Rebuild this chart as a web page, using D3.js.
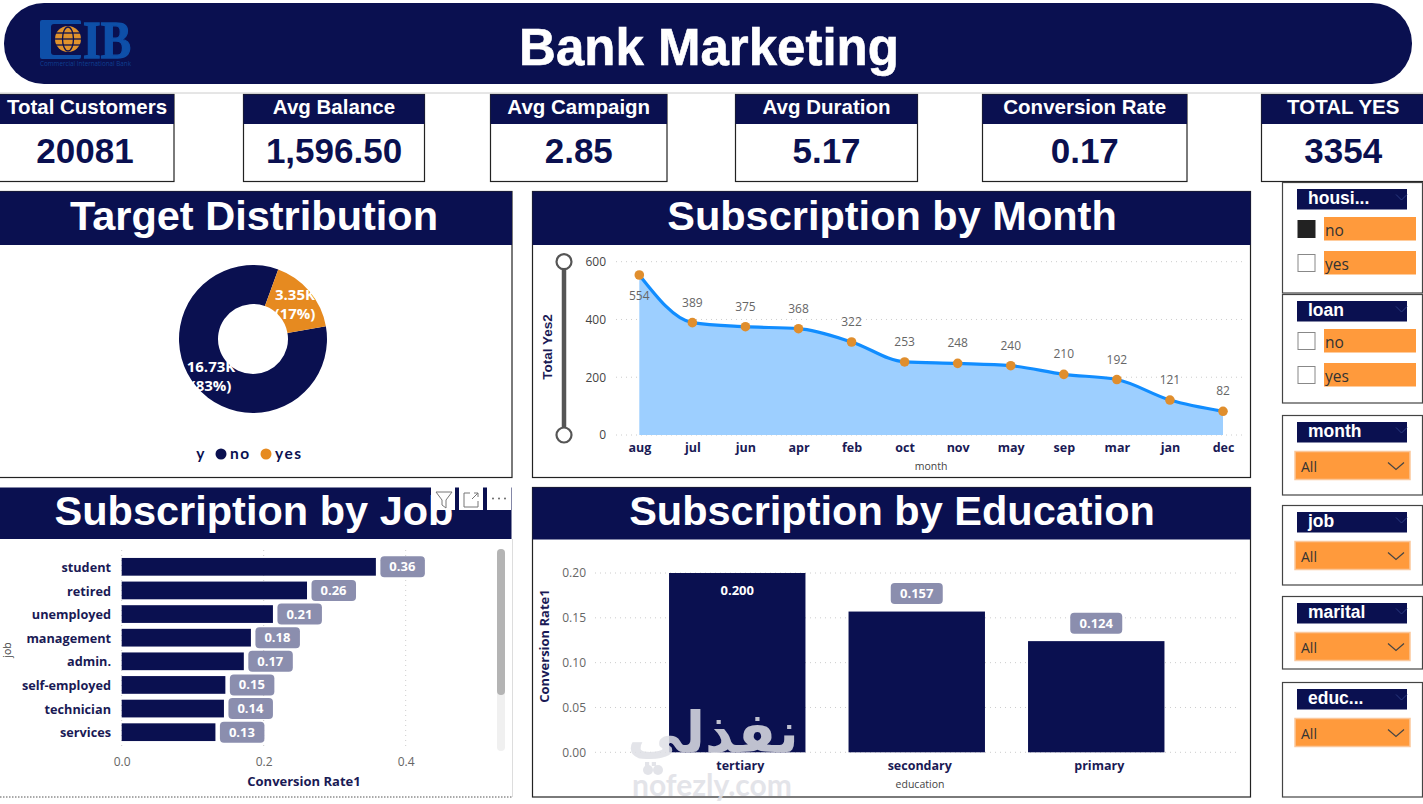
<!DOCTYPE html>
<html>
<head>
<meta charset="utf-8">
<title>Bank Marketing</title>
<script src="https://cdn.jsdelivr.net/npm/d3@7"></script>
<style>
  html, body { margin: 0; padding: 0; background: #fff; overflow: hidden; }
  svg { display: block; }
  text { font-family: "Open Sans", sans-serif; }
  text.arial { font-family: "Liberation Sans", Arial, sans-serif; }
  .axis .domain { display: none; }
  .axis .tick line { display: none; }
</style>
</head>
<body>
<div id="chart"></div>
<script>
// data
var kpiLabels = ["Total Customers", "Avg Balance", "Avg Campaign", "Avg Duration", "Conversion Rate", "TOTAL YES"];
var kpiValues = ["20081", "1,596.50", "2.85", "5.17", "0.17", "3354"];

var targetCats = ["no", "yes"];
var targetVals = [16730, 3350];
var targetLabels = ["16.73K", "3.35K"];
var targetPcts = ["(83%)", "(17%)"];

var months = ["aug", "jul", "jun", "apr", "feb", "oct", "nov", "may", "sep", "mar", "jan", "dec"];
var monthYes = [554, 389, 375, 368, 322, 253, 248, 240, 210, 192, 121, 82];
var monthTicks = [0, 200, 400, 600];

var jobs = ["student", "retired", "unemployed", "management", "admin.", "self-employed", "technician", "services"];
var jobRate = [0.358, 0.261, 0.213, 0.182, 0.172, 0.146, 0.144, 0.132];
var jobTicks = [0, 0.2, 0.4];

var education = ["tertiary", "secondary", "primary"];
var eduRate = [0.200, 0.157, 0.124];
var eduTicks = [0, 0.05, 0.10, 0.15, 0.20];

var listSlicers = ["housi...", "loan"];
var listOptions = ["no", "yes"];
var dropSlicers = ["month", "job", "marital", "educ..."];

var navy = "#0a1050", orange = "#e68a20", sliceOrange = "#ff9a3c";
var ink = "#1a1a55", grey = "#666";

var svg = d3.select("#chart").append("svg").attr("width", 1423).attr("height", 804);

// helpers
function frame(x, y, w, h, stroke) {
    return svg.append("rect").attr("x", x).attr("y", y).attr("width", w).attr("height", h)
        .attr("fill", "#fff").attr("stroke", stroke || "#222").attr("stroke-width", 1.2);
}
function band(x, y, w, h) {
    return svg.append("rect").attr("x", x).attr("y", y).attr("width", w).attr("height", h).attr("fill", navy);
}
function label(x, y, s, size, weight, fill, anchor) {
    return svg.append("text").attr("x", x).attr("y", y).text(s)
        .attr("font-size", size).attr("font-weight", weight || 400)
        .attr("fill", fill || ink).attr("text-anchor", anchor || "middle");
}
function gridX(sel, scale, ticks, y0, y1) {
    sel.selectAll("line.g").data(ticks).enter().append("line").attr("class", "g")
        .attr("x1", function(d) { return scale(d); }).attr("x2", function(d) { return scale(d); })
        .attr("y1", y0).attr("y2", y1)
        .attr("stroke", "#ccc").attr("stroke-dasharray", "1 4");
}
function gridY(sel, scale, ticks, x0, x1) {
    sel.selectAll("line.g").data(ticks).enter().append("line").attr("class", "g")
        .attr("x1", x0).attr("x2", x1)
        .attr("y1", function(d) { return scale(d); }).attr("y2", function(d) { return scale(d); })
        .attr("stroke", "#ccc").attr("stroke-dasharray", "1 4");
}

// header
svg.append("line").attr("x1", 0).attr("x2", 1423).attr("y1", 93).attr("y2", 93).attr("stroke", "#ccc");
svg.append("rect").attr("x", 4).attr("y", 3).attr("width", 1408).attr("height", 81).attr("rx", 40).attr("fill", navy);
label(709, 65, "Bank Marketing", 51, 700, "#fff").attr("class", "arial")
    .attr("stroke", "#fff").attr("stroke-width", 0.6);

// logo
var logo = svg.append("g");
logo.append("rect").attr("x", 40).attr("y", 20).attr("width", 41).attr("height", 39).attr("rx", 2).attr("fill", "#0e4fa8");
logo.append("rect").attr("x", 51).attr("y", 24).attr("width", 34).attr("height", 31).attr("rx", 3).attr("fill", navy);
logo.append("circle").attr("cx", 68).attr("cy", 39).attr("r", 13).attr("fill", "#e0922c");
logo.append("ellipse").attr("cx", 68).attr("cy", 39).attr("rx", 5.5).attr("ry", 12).attr("fill", "none").attr("stroke", navy).attr("stroke-width", 1.3);
[33, 39, 45].forEach(function(y) {
    logo.append("line").attr("x1", 55).attr("x2", 81).attr("y1", y).attr("y2", y).attr("stroke", navy).attr("stroke-width", 1.3);
});
logo.append("text").attr("x", 83).attr("y", 58).text("IB").attr("fill", "#0e4fa8").attr("stroke", "#0e4fa8").attr("stroke-width", 1.4)
    .attr("font-size", 53).attr("font-weight", 700).style("font-family", "'Liberation Serif', serif")
    .attr("textLength", 48).attr("lengthAdjust", "spacingAndGlyphs");
logo.append("text").attr("x", 40).attr("y", 66).text("Commercial International Bank").attr("fill", "#0e3f90")
    .attr("font-size", 6.5).attr("textLength", 91).attr("lengthAdjust", "spacingAndGlyphs");

// KPI cards
var kpiLeft = [-2, 243.5, 490.5, 735.5, 982.5, 1261.5];
var kpiRight = [174, 424.5, 667, 917.5, 1187, 1425];
kpiLabels.forEach(function(name, i) {
    var w = kpiRight[i] - kpiLeft[i], cx = kpiLeft[i] + w / 2;
    frame(kpiLeft[i], 94.5, w, 87);
    band(kpiLeft[i], 94.5, w, 29.5);
    label(i == 0 ? 87 : cx, 114, name, 20.5, 700, "#fff").attr("class", "arial");
    label(i == 0 ? 85 : cx, 163, kpiValues[i], 35, 700, navy).attr("class", "arial");
});

// Target Distribution
frame(-2, 191.5, 514, 286);
band(-2, 191.5, 514, 53.5);
label(254, 230, "Target Distribution", 41.5, 700, "#fff").attr("class", "arial");

var pie = d3.pie().sort(null).startAngle(80 * Math.PI / 180).endAngle((80 + 360) * Math.PI / 180);
var arc = d3.arc().innerRadius(35).outerRadius(74);
var donut = svg.append("g").attr("transform", "translate(253,339)");
var color = d3.scaleOrdinal().domain(targetCats).range([navy, orange]);
donut.selectAll("path").data(pie(targetVals)).enter().append("path")
    .attr("d", arc).attr("fill", function(d, i) { return color(targetCats[i]); });
// the labels run into the white hole and vanish there, same as in the picture
var donutLabelPos = [[211, 372, 390.5], [295, 300, 319]];
targetCats.forEach(function(c, i) {
    label(donutLabelPos[i][0], donutLabelPos[i][1], targetLabels[i], 15, 700, "#fff");
    label(donutLabelPos[i][0], donutLabelPos[i][2], targetPcts[i], 15, 700, "#fff");
});
function legendText(x, s, anchor) {
    return label(x, 459, s, 15.5, 700, navy, anchor).style("font-family", "Lato").attr("letter-spacing", 1.5);
}
legendText(201, "y");
svg.append("circle").attr("cx", 221).attr("cy", 454).attr("r", 5.5).attr("fill", navy);
legendText(230, "no", "start");
svg.append("circle").attr("cx", 266).attr("cy", 454).attr("r", 5.5).attr("fill", orange);
legendText(275, "yes", "start");

// Subscription by Month
frame(532.5, 191.5, 718, 286);
band(532.5, 191.5, 718, 53.5);
label(892, 230, "Subscription by Month", 41.5, 700, "#fff").attr("class", "arial");

var xMonth = d3.scalePoint().domain(months).range([639.3, 1223]);
var yMonth = d3.scaleLinear().domain([0, 600]).range([435, 261.7]);
var g1 = svg.append("g");
gridY(g1, yMonth, monthTicks, 616, 1245);
g1.append("path").datum(monthYes).attr("fill", "#9dcfff")
    .attr("d", d3.area().curve(d3.curveMonotoneX)
        .x(function(d, i) { return xMonth(months[i]); })
        .y0(yMonth(0)).y1(function(d) { return yMonth(d); }));
g1.append("path").datum(monthYes).attr("fill", "none").attr("stroke", "#118dff").attr("stroke-width", 3.2)
    .attr("d", d3.line().curve(d3.curveMonotoneX)
        .x(function(d, i) { return xMonth(months[i]); })
        .y(function(d) { return yMonth(d); }));
g1.selectAll("circle").data(monthYes).enter().append("circle")
    .attr("cx", function(d, i) { return xMonth(months[i]); })
    .attr("cy", function(d) { return yMonth(d); })
    .attr("r", 4.8).attr("fill", "#e08e2d");
g1.selectAll("text.v").data(monthYes).enter().append("text").attr("class", "v")
    .attr("x", function(d, i) { return xMonth(months[i]); })
    .attr("y", function(d, i) { return yMonth(d) + (i == 0 ? 25 : -16); })
    .attr("text-anchor", "middle").attr("font-size", 12).attr("fill", "#666")
    .text(function(d) { return d; });

svg.append("g").attr("class", "axis").attr("transform", "translate(606,0)")
    .call(d3.axisLeft(yMonth).tickValues(monthTicks).tickSize(0).tickPadding(0))
    .selectAll("text").attr("font-size", 12).attr("fill", "#444").style("font-family", "'Open Sans'");
svg.append("g").attr("class", "axis").attr("transform", "translate(0,443)")
    .call(d3.axisBottom(xMonth).tickSize(0).tickPadding(0))
    .selectAll("text").attr("font-size", 12.5).attr("font-weight", 700).attr("fill", ink).style("font-family", "'Open Sans'");
label(931, 470, "month", 10.5, 400, "#444");
svg.append("text").attr("transform", "translate(552,347) rotate(-90)").text("Total Yes2").attr("class", "arial")
    .attr("text-anchor", "middle").attr("font-size", 13.5).attr("font-weight", 700).attr("fill", ink);

// range slider left of the axis
svg.append("line").attr("x1", 564).attr("x2", 564).attr("y1", 268).attr("y2", 428).attr("stroke", "#555").attr("stroke-width", 4.5);
[yMonth(600), yMonth(0)].forEach(function(cy) {
    svg.append("circle").attr("cx", 564).attr("cy", cy).attr("r", 7.5).attr("fill", "#fff").attr("stroke", "#555").attr("stroke-width", 2.2);
});

// Subscription by Job
svg.append("line").attr("x1", 0).attr("x2", 512).attr("y1", 797).attr("y2", 797).attr("stroke", "#555").attr("stroke-dasharray", "1.5 1.5");
svg.append("line").attr("x1", 512.5).attr("x2", 512.5).attr("y1", 539).attr("y2", 797).attr("stroke", "#ddd");
band(-2, 487.5, 513.5, 51.5);
label(254, 525, "Subscription by Job", 41.5, 700, "#fff").attr("class", "arial");

var xJob = d3.scaleLinear().domain([0, 0.4]).range([121.7, 405.7]);
var yJob = d3.scaleBand().domain(jobs).range([555, 744]).paddingInner(0.25).paddingOuter(0.125);
var g2 = svg.append("g");
gridX(g2, xJob, jobTicks, 550, 750);
g2.selectAll("rect.b").data(jobRate).enter().append("rect").attr("class", "b")
    .attr("x", xJob(0)).attr("y", function(d, i) { return yJob(jobs[i]); })
    .attr("width", function(d) { return xJob(d) - xJob(0); })
    .attr("height", yJob.bandwidth()).attr("fill", navy);
g2.selectAll("rect.p").data(jobRate).enter().append("rect").attr("class", "p")
    .attr("x", function(d) { return xJob(d) + 4.5; })
    .attr("y", function(d, i) { return yJob(jobs[i]) + yJob.bandwidth() / 2 - 10.5; })
    .attr("width", 44.5).attr("height", 21).attr("rx", 4).attr("fill", "#8b8eae");
g2.selectAll("text.p").data(jobRate).enter().append("text").attr("class", "p")
    .attr("x", function(d) { return xJob(d) + 26.5; })
    .attr("y", function(d, i) { return yJob(jobs[i]) + yJob.bandwidth() / 2 + 4.5; })
    .attr("text-anchor", "middle").attr("font-size", 13).attr("font-weight", 700).attr("fill", "#fff")
    .text(function(d) { return d3.format(".2f")(d); });
svg.append("g").attr("class", "axis").attr("transform", "translate(111,1)")
    .call(d3.axisLeft(yJob).tickSize(0).tickPadding(0))
    .selectAll("text").attr("font-size", 12.7).attr("font-weight", 700).attr("fill", ink).style("font-family", "'Open Sans'");
svg.append("g").attr("class", "axis").attr("transform", "translate(0,757)")
    .call(d3.axisBottom(xJob).tickValues(jobTicks).tickFormat(d3.format(".1f")).tickSize(0).tickPadding(0))
    .selectAll("text").attr("font-size", 12).attr("fill", grey).style("font-family", "'Open Sans'");
label(304, 786, "Conversion Rate1", 13, 700, ink);
svg.append("text").attr("transform", "translate(11,650) rotate(-90)").text("job")
    .attr("text-anchor", "middle").attr("font-size", 10.5).attr("fill", "#444");

// scrollbar
svg.append("rect").attr("x", 497).attr("y", 549).attr("width", 8).attr("height", 202).attr("rx", 4).attr("fill", "#f0f0f0");
svg.append("rect").attr("x", 497).attr("y", 549).attr("width", 8).attr("height", 146).attr("rx", 4).attr("fill", "#b4b4b4");

// visual header icons
[431, 459, 487].forEach(function(x) {
    svg.append("rect").attr("x", x).attr("y", 487).attr("width", 24).attr("height", 23).attr("fill", "#fff");
});
svg.append("path").attr("d", "M436 492H452L446 500V508L442 505V500Z").attr("fill", "none").attr("stroke", "#777");
svg.append("path").attr("d", "M470 493H464V507H478V501M472 499L478 493M474 493H478V497").attr("fill", "none").attr("stroke", "#777");
[493, 499, 505].forEach(function(x) {
    svg.append("circle").attr("cx", x).attr("cy", 498.5).attr("r", 1).attr("fill", "#666");
});

// Subscription by Education
frame(532.5, 487.5, 718, 309.5);
band(532.5, 487.5, 718, 52);
label(892, 525, "Subscription by Education", 41.5, 700, "#fff").attr("class", "arial");

var xEdu = d3.scaleBand().domain(education).range([647.5, 1186]).paddingInner(0.24).paddingOuter(0.12);
var yEdu = d3.scaleLinear().domain([0, 0.2]).range([752.3, 573]);
var g3 = svg.append("g");
gridY(g3, yEdu, eduTicks, 595, 1240);
g3.selectAll("rect").data(eduRate).enter().append("rect")
    .attr("x", function(d, i) { return xEdu(education[i]); })
    .attr("y", function(d) { return yEdu(d); })
    .attr("width", xEdu.bandwidth())
    .attr("height", function(d) { return yEdu(0) - yEdu(d); })
    .attr("fill", navy);
eduRate.forEach(function(d, i) {
    var cx = xEdu(education[i]) + xEdu.bandwidth() / 2;
    // the tallest bar has no room above, its label goes inside with no pill
    if (i > 0) {
        svg.append("rect").attr("x", cx - 26).attr("y", yEdu(d) - 28.5).attr("width", 52).attr("height", 21).attr("rx", 4).attr("fill", "#8b8eae");
    }
    label(cx, i > 0 ? yEdu(d) - 13.5 : yEdu(d) + 21.5, d3.format(".3f")(d), 13, 700, "#fff");
});
svg.append("g").attr("class", "axis").attr("transform", "translate(586,0)")
    .call(d3.axisLeft(yEdu).tickValues(eduTicks).tickFormat(d3.format(".2f")).tickSize(0).tickPadding(0))
    .selectAll("text").attr("font-size", 12).attr("fill", grey).style("font-family", "'Open Sans'");
svg.append("text").attr("transform", "translate(549,646) rotate(-90)").text("Conversion Rate1")
    .attr("text-anchor", "middle").attr("font-size", 13).attr("font-weight", 700).attr("fill", ink);

// slicers
function slicerHead(top, name) {
    band(1297, top + 6.5, 110, 20.5);
    label(1308, top + 21.5, name, 17.5, 700, "#fff", "start").attr("class", "arial");
    svg.append("path").attr("d", "M1396 " + (top + 12) + "l5.5 5.5l5.5 -5.5").attr("fill", "none").attr("stroke", "#2a3a80");
}
var listTops = [182.5, 294.5], listBottoms = [293, 403];
listSlicers.forEach(function(name, i) {
    frame(1282.5, listTops[i], 140, listBottoms[i] - listTops[i], "#444");
    slicerHead(listTops[i], name);
    listOptions.forEach(function(opt, j) {
        var y = listTops[i] + 34.5 + j * 34;
        svg.append("rect").attr("x", 1298).attr("y", y + 3.5).attr("width", 17).attr("height", 17)
            .attr("fill", i == 0 && j == 0 ? "#222" : "#fff").attr("stroke", i == 0 && j == 0 ? "#222" : "#888");
        svg.append("rect").attr("x", 1324).attr("y", y).attr("width", 92).attr("height", 23.5).attr("fill", sliceOrange);
        label(1325, y + 19, opt, 15.5, 400, "#333", "start").style("font-family", "'Open Sans'");
    });
});
var dropTops = [415.5, 505.5, 596.5, 682.5], dropBottoms = [495, 585, 669, 797];
dropSlicers.forEach(function(name, i) {
    frame(1282.5, dropTops[i], 140, dropBottoms[i] - dropTops[i], "#444");
    slicerHead(dropTops[i], name);
    var y = dropTops[i] + 36;
    svg.append("rect").attr("x", 1295).attr("y", y).attr("width", 115).attr("height", 28)
        .attr("fill", sliceOrange).attr("stroke", "#fbc79a").attr("stroke-width", 1.5);
    label(1301, y + 20, "All", 14, 400, "#333", "start");
    svg.append("path").attr("d", "M1388 " + (y + 11) + "l8 7l8 -7").attr("fill", "none").attr("stroke", "#444").attr("stroke-width", 1.2);
});

// watermark sits over everything, the axis labels below it stay readable
var mark = svg.append("g").attr("opacity", 0.85).attr("fill", "#dfe0e6");
mark.append("text").attr("x", 713).attr("y", 752).text("نفذلي")
    .attr("text-anchor", "middle").attr("font-size", 56).attr("font-weight", 700).style("font-family", "'DejaVu Sans'");
mark.append("text").attr("x", 712).attr("y", 796).text("nofezly.com")
    .attr("text-anchor", "middle").attr("font-size", 30).attr("font-weight", 700).style("font-family", "'Lato'");
[648, 658].forEach(function(x) {
    mark.append("circle").attr("cx", x).attr("cy", 770).attr("r", 5);
});

// education labels go on top of the watermark
svg.append("g").attr("class", "axis").attr("transform", "translate(3,761)")
    .call(d3.axisBottom(xEdu).tickSize(0).tickPadding(0))
    .selectAll("text").attr("font-size", 12.5).attr("font-weight", 700).attr("fill", ink).style("font-family", "'Open Sans'");
label(920, 788, "education", 10.5, 400, "#444");
</script>
</body>
</html>
